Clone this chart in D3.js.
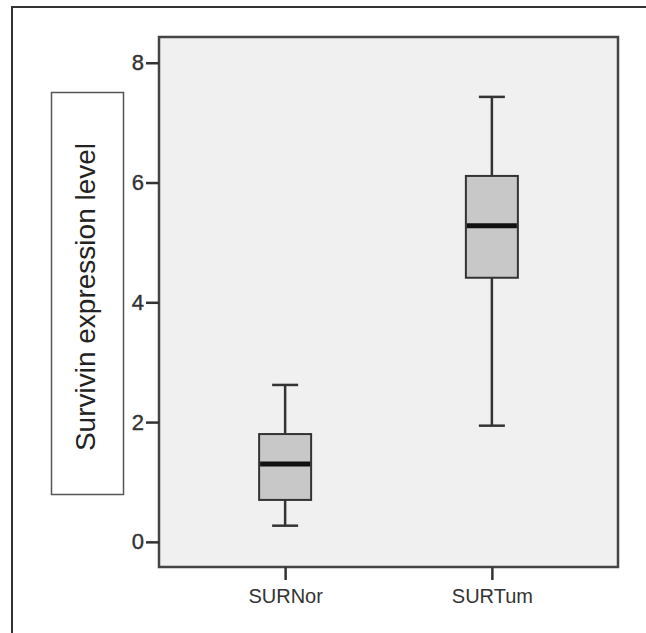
<!DOCTYPE html>
<html>
<head>
<meta charset="utf-8">
<script src="https://cdn.jsdelivr.net/npm/d3@7"></script>
<style>
  body { margin: 0; background: #fff; }
  svg { display: block; }
</style>
</head>
<body>
<svg id="chart" width="646" height="633"></svg>
<script>
// groups and box statistics
const groups = ['SURNor', 'SURTum']
const lowWhisker = [0.27, 1.94]
const q1 = [0.70, 4.41]
const median = [1.30, 5.28]
const q3 = [1.80, 6.11]
const highWhisker = [2.62, 7.43]
const yTicks = [0, 2, 4, 6, 8]
const yLabel = 'Survivin expression level'

const boxes = groups.map((g, i) => ({
    name: g,
    lo: lowWhisker[i], q1: q1[i], med: median[i], q3: q3[i], hi: highWhisker[i]
}))

const svg = d3.select('#chart')
const plot = { left: 159, right: 618, top: 37, bottom: 567 }
const ink = '#333'

const x = d3.scalePoint()
    .domain(groups)
    .range([plot.left, plot.right])
    .padding(0.61)

const y = d3.scaleLinear()
    .domain([-0.42, 8.43])
    .range([plot.bottom, plot.top])

// outer frame (top and left edges only)
svg.append('path')
    .attr('d', `M12,633 L12,7 L646,7`)
    .attr('fill', 'none')
    .attr('stroke', ink)
    .attr('stroke-width', 2)

// plot background
svg.append('rect')
    .attr('x', plot.left)
    .attr('y', plot.top)
    .attr('width', plot.right - plot.left)
    .attr('height', plot.bottom - plot.top)
    .attr('fill', '#f0f0f0')
    .attr('stroke', '#444')
    .attr('stroke-width', 2.5)

// y axis
const yAxis = svg.append('g')
    .attr('transform', `translate(${plot.left},0)`)
    .call(d3.axisLeft(y).tickValues(yTicks).tickSize(13).tickPadding(2).tickFormat(d3.format('d')))
yAxis.select('.domain').remove()
yAxis.selectAll('line').attr('stroke', ink).attr('stroke-width', 2.5)
yAxis.selectAll('text')
    .attr('fill', ink)
    .attr('stroke', ink)
    .attr('stroke-width', 0.4)
    .attr('font-family', 'Liberation Sans, Arial, sans-serif')
    .attr('font-size', 22)

// x axis
const xAxis = svg.append('g')
    .attr('transform', `translate(0,${plot.bottom})`)
    .call(d3.axisBottom(x).tickSize(13).tickPadding(9))
xAxis.select('.domain').remove()
xAxis.selectAll('line').attr('stroke', ink).attr('stroke-width', 2.5)
xAxis.selectAll('text')
    .attr('fill', ink)
    .attr('font-family', 'Liberation Sans, Arial, sans-serif')
    .attr('font-size', 20)

// y label in its framed box
svg.append('rect')
    .attr('x', 51.5)
    .attr('y', 92.5)
    .attr('width', 72)
    .attr('height', 402)
    .attr('fill', '#fff')
    .attr('stroke', '#555')
    .attr('stroke-width', 1.5)

svg.append('text')
    .attr('transform', 'translate(95,297) rotate(-90)')
    .attr('text-anchor', 'middle')
    .attr('fill', '#222')
    .attr('font-family', 'Liberation Sans, Arial, sans-serif')
    .attr('font-size', 28)
    .text(yLabel)

// boxplots
const boxW = 52
const capW = 26

const g = svg.append('g')
    .selectAll('g')
    .data(boxes)
    .join('g')
    .attr('transform', d => `translate(${x(d.name)},0)`)

g.append('line')
    .attr('y1', d => y(d.hi)).attr('y2', d => y(d.q3))
    .attr('stroke', ink).attr('stroke-width', 2.5)
g.append('line')
    .attr('y1', d => y(d.q1)).attr('y2', d => y(d.lo))
    .attr('stroke', ink).attr('stroke-width', 2.5)

g.append('line')
    .attr('x1', -capW / 2).attr('x2', capW / 2)
    .attr('y1', d => y(d.hi)).attr('y2', d => y(d.hi))
    .attr('stroke', ink).attr('stroke-width', 2.5)
g.append('line')
    .attr('x1', -capW / 2).attr('x2', capW / 2)
    .attr('y1', d => y(d.lo)).attr('y2', d => y(d.lo))
    .attr('stroke', ink).attr('stroke-width', 2.5)

g.append('rect')
    .attr('x', -boxW / 2)
    .attr('y', d => y(d.q3))
    .attr('width', boxW)
    .attr('height', d => y(d.q1) - y(d.q3))
    .attr('fill', '#c8c8c8')
    .attr('stroke', ink)
    .attr('stroke-width', 2)

g.append('line')
    .attr('x1', -boxW / 2 + 1).attr('x2', boxW / 2 - 1)
    .attr('y1', d => y(d.med)).attr('y2', d => y(d.med))
    .attr('stroke', '#111').attr('stroke-width', 5)
</script>
</body>
</html>
